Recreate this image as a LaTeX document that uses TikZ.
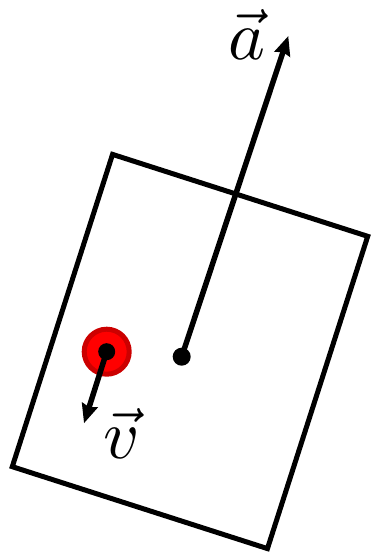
\documentclass[tikz,border=0pt]{standalone}
\usepackage{amsmath}
\usepackage{tikz}
\usetikzlibrary{arrows.meta}
\tikzset{
  body/.style={draw, rectangle, line width=5pt, minimum width=268pt, minimum height=328pt, rotate=-17.8, inner sep=0pt},
  massdot/.style={circle, fill=black, inner sep=0pt, minimum size=18pt},
  particle/.style={circle, fill=red, draw=red!80!black, line width=5pt, minimum size=45pt, inner sep=0pt},
  vecflow/.style={-{Stealth[length=19pt,width=16pt,inset=2pt]}, line width=5.5pt},
  veclabel/.style={inner sep=0pt, anchor=base west, scale=7}
}
\begin{document}
\begin{tikzpicture}[x=1pt,y=1pt]
  \useasboundingbox (0,0) rectangle (371,555);

  \node[body] (box) at (190,203.5) {};
  \node[massdot] (cm) at (181.7,198.3) {};
  \coordinate (atip) at (288.3,519);
  \draw[vecflow] (cm.center) -- (atip);

  % particle and its velocity
  \node[particle] (part) at (106.7,203.3) {};
  \node[massdot, minimum size=17pt] (pdot) at (part.center) {};
  \coordinate (vtip) at (84,131.7);
  \draw[vecflow] (pdot.center) -- (vtip);

  \node[veclabel] (alabel) at (227,495) {$\vec{a}$};
  \node[veclabel] (vlabel) at (102,97) {$\vec{v}$};
\end{tikzpicture}
\end{document}
